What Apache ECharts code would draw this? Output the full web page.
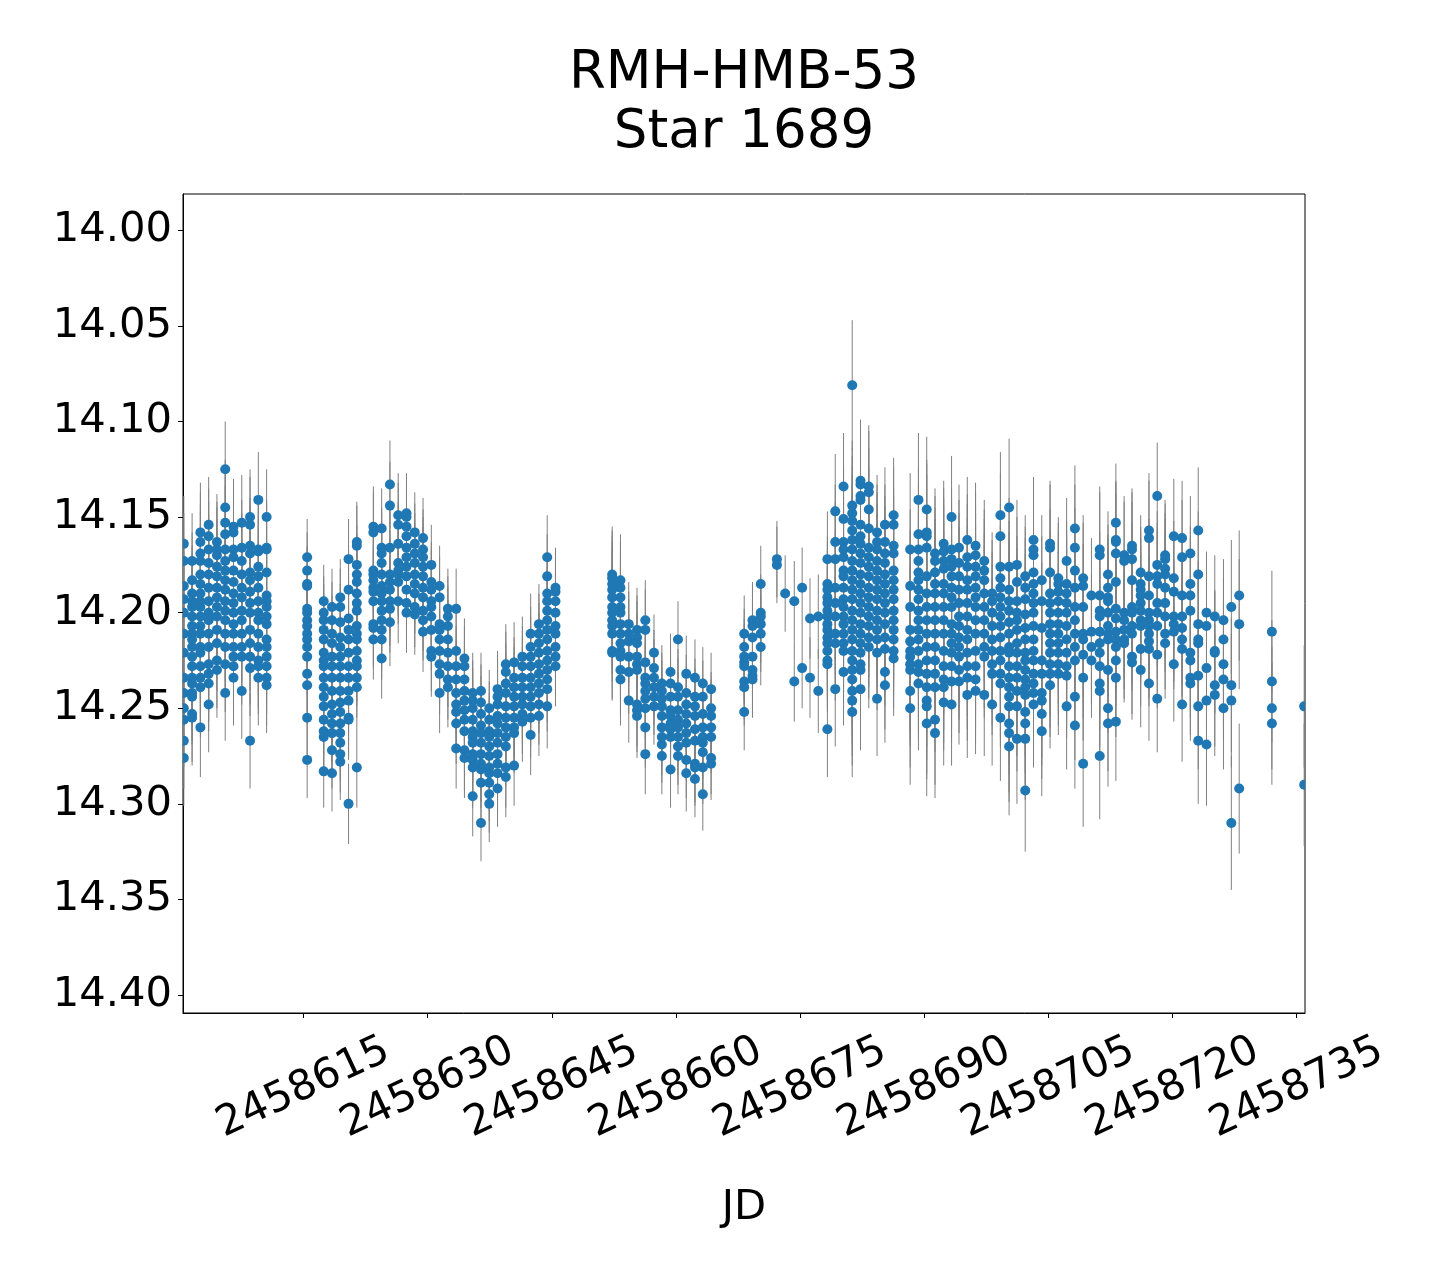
<!DOCTYPE html>
<html><head><meta charset="utf-8">
<script src="https://cdn.jsdelivr.net/npm/echarts@6/dist/echarts.min.js"></script>
<style>html,body{margin:0;background:#fff}#c{width:1440px;height:1280px}</style>
</head><body><div id="c"></div>
<script>
const titleLines = ['RMH-HMB-53', 'Star 1689'];
const xName = 'JD';
const xTicks = [2458615, 2458630, 2458645, 2458660, 2458675, 2458690, 2458705, 2458720, 2458735];
const yTicks = [14.00, 14.05, 14.10, 14.15, 14.20, 14.25, 14.30, 14.35, 14.40];

// one entry per observing night: JD, typical error, magnitudes
const nightJD = [
  2458600.55, 2458601.55, 2458602.55, 2458603.55, 2458604.55, 2458605.55, 2458606.55, 2458607.55, 2458608.55, 2458609.55, 2458610.55,
  2458615.45, 2458617.45, 2458618.45, 2458619.45, 2458620.45, 2458621.45, 2458623.45, 2458624.45, 2458625.45, 2458626.45,
  2458627.45, 2458628.45, 2458629.45, 2458630.45, 2458631.45, 2458632.45, 2458633.45, 2458634.45, 2458635.45, 2458636.45,
  2458637.45, 2458638.45, 2458639.45, 2458640.45, 2458641.45, 2458642.45, 2458643.45, 2458644.45, 2458645.45,
  2458652.3, 2458653.3, 2458654.3, 2458655.3, 2458656.3, 2458657.35, 2458658.3, 2458659.35, 2458660.25, 2458661.25,
  2458662.3, 2458663.25, 2458664.25,
  2458668.25, 2458669.25, 2458670.25, 2458672.2, 2458673.2, 2458674.3, 2458675.25, 2458676.2, 2458677.2,
  2458678.3, 2458679.25, 2458680.25, 2458681.3, 2458682.3, 2458683.3, 2458684.3, 2458685.25, 2458686.3,
  2458688.3, 2458689.3, 2458690.3, 2458691.3, 2458692.35, 2458693.3, 2458694.2, 2458695.2, 2458696.2, 2458697.25,
  2458698.2, 2458699.2, 2458700.25, 2458701.2, 2458702.2, 2458703.2, 2458704.2, 2458705.2, 2458706.2, 2458707.2,
  2458708.2, 2458709.2, 2458710.2, 2458711.2, 2458712.2,
  2458713.15, 2458714.15, 2458715.1, 2458716.15, 2458717.15, 2458718.15, 2458719.1, 2458720.15, 2458721.15, 2458722.15,
  2458723.1, 2458724.1, 2458725.1, 2458726.15, 2458727.1, 2458728.05, 2458732.0, 2458735.9
];
const nightErr = [
  0.025, 0.025, 0.026, 0.025, 0.025, 0.025, 0.025, 0.025, 0.025, 0.025, 0.025,
  0.02, 0.019, 0.02, 0.02, 0.021, 0.021, 0.021, 0.021, 0.023, 0.022,
  0.021, 0.021, 0.021, 0.021, 0.021, 0.021, 0.021, 0.021, 0.021, 0.02,
  0.02, 0.02, 0.021, 0.021, 0.021, 0.021, 0.021, 0.022, 0.021,
  0.025, 0.024, 0.022, 0.022, 0.021, 0.02, 0.02, 0.02, 0.02, 0.02,
  0.02, 0.019, 0.019,
  0.02, 0.02, 0.02, 0.02, 0.02, 0.021, 0.021, 0.021, 0.022,
  0.025, 0.03, 0.028, 0.034, 0.032, 0.032, 0.03, 0.03, 0.03,
  0.04, 0.035, 0.038, 0.034, 0.033, 0.032, 0.033, 0.033, 0.033, 0.032,
  0.032, 0.033, 0.036, 0.034, 0.032, 0.033, 0.034, 0.033, 0.032, 0.033,
  0.033, 0.033, 0.03, 0.033, 0.033,
  0.031, 0.031, 0.03, 0.03, 0.03, 0.028, 0.029, 0.03, 0.03, 0.03,
  0.033, 0.032, 0.032, 0.032, 0.035, 0.034, 0.032, 0.032
];
const nightMags = [
  [14.164,14.173,14.186,14.193,14.200,14.211,14.221,14.234,14.242,14.250,14.256,14.267,14.276],
  [14.173,14.183,14.190,14.194,14.197,14.202,14.207,14.211,14.214,14.218,14.223,14.228,14.234,14.237,14.242,14.244,14.253,14.255],
  [14.158,14.163,14.169,14.173,14.180,14.185,14.190,14.194,14.197,14.202,14.207,14.211,14.218,14.221,14.228,14.234,14.239,14.260],
  [14.154,14.160,14.167,14.174,14.180,14.187,14.194,14.200,14.204,14.211,14.218,14.227,14.232,14.237,14.248],
  [14.163,14.167,14.170,14.176,14.181,14.187,14.192,14.197,14.202,14.209,14.216,14.225,14.230],
  [14.125,14.145,14.153,14.159,14.167,14.173,14.178,14.183,14.188,14.194,14.199,14.204,14.211,14.218,14.227,14.242],
  [14.155,14.158,14.167,14.171,14.178,14.184,14.190,14.195,14.200,14.206,14.211,14.218,14.223,14.228,14.234],
  [14.153,14.166,14.173,14.180,14.187,14.192,14.199,14.204,14.211,14.218,14.223,14.241],
  [14.150,14.154,14.165,14.169,14.179,14.183,14.189,14.195,14.200,14.209,14.216,14.223,14.229,14.267],
  [14.141,14.167,14.168,14.176,14.181,14.187,14.194,14.200,14.204,14.211,14.218,14.225,14.228,14.234],
  [14.150,14.166,14.167,14.179,14.191,14.194,14.197,14.202,14.206,14.214,14.218,14.223,14.228,14.234,14.238],
  [14.171,14.178,14.185,14.186,14.198,14.200,14.204,14.207,14.211,14.214,14.218,14.223,14.232,14.238,14.255,14.277],
  [14.194,14.200,14.204,14.209,14.214,14.221,14.225,14.228,14.234,14.239,14.244,14.249,14.256,14.262,14.265,14.283],
  [14.197,14.204,14.211,14.216,14.223,14.228,14.234,14.241,14.248,14.253,14.258,14.263,14.272,14.284],
  [14.192,14.197,14.205,14.213,14.218,14.223,14.228,14.234,14.241,14.247,14.252,14.258,14.263,14.268,14.274,14.278],
  [14.172,14.188,14.203,14.209,14.214,14.221,14.228,14.234,14.241,14.246,14.255,14.256,14.300],
  [14.163,14.165,14.175,14.180,14.184,14.190,14.195,14.199,14.207,14.211,14.214,14.220,14.225,14.228,14.234,14.239,14.281],
  [14.155,14.158,14.178,14.180,14.183,14.187,14.189,14.194,14.206,14.208,14.214],
  [14.156,14.166,14.169,14.174,14.180,14.186,14.190,14.194,14.199,14.204,14.209,14.214,14.224],
  [14.133,14.144,14.166,14.180,14.184,14.188,14.194,14.198,14.205],
  [14.149,14.154,14.164,14.174,14.178,14.180,14.184,14.194],
  [14.148,14.150,14.155,14.160,14.166,14.171,14.176,14.181,14.188,14.195,14.200],
  [14.158,14.164,14.169,14.174,14.180,14.185,14.190,14.197,14.201],
  [14.161,14.167,14.171,14.176,14.181,14.187,14.192,14.199,14.204,14.210],
  [14.175,14.184,14.188,14.194,14.197,14.202,14.209,14.220,14.223],
  [14.186,14.192,14.206,14.209,14.214,14.220,14.227,14.232,14.242],
  [14.198,14.202,14.207,14.214,14.221,14.228,14.235,14.239],
  [14.198,14.220,14.228,14.235,14.242,14.248,14.252,14.258,14.271],
  [14.224,14.228,14.235,14.241,14.246,14.251,14.256,14.262,14.272,14.276],
  [14.242,14.246,14.250,14.256,14.262,14.265,14.268,14.274,14.277,14.281,14.296],
  [14.241,14.247,14.253,14.259,14.263,14.268,14.274,14.279,14.282,14.289,14.310],
  [14.250,14.256,14.262,14.265,14.270,14.275,14.281,14.284,14.289,14.295,14.300],
  [14.240,14.244,14.248,14.254,14.258,14.263,14.268,14.274,14.279,14.284,14.292],
  [14.227,14.231,14.237,14.242,14.249,14.255,14.260,14.265,14.270,14.281,14.286],
  [14.226,14.234,14.239,14.244,14.249,14.255,14.260,14.263,14.280],
  [14.223,14.228,14.234,14.239,14.244,14.248,14.253,14.257],
  [14.211,14.218,14.223,14.228,14.234,14.239,14.244,14.249,14.255,14.264],
  [14.206,14.211,14.216,14.221,14.227,14.232,14.237,14.242,14.248,14.254],
  [14.171,14.181,14.190,14.194,14.199,14.204,14.209,14.214,14.220,14.225,14.230,14.235,14.240,14.249],
  [14.187,14.189,14.194,14.200,14.207,14.211,14.218,14.223,14.228],
  [14.180,14.182,14.185,14.188,14.192,14.197,14.200,14.204,14.207,14.211,14.220,14.221],
  [14.183,14.187,14.192,14.197,14.200,14.206,14.211,14.216,14.220,14.223,14.230,14.235],
  [14.206,14.211,14.215,14.223,14.231,14.246],
  [14.209,14.213,14.216,14.223,14.227,14.230,14.248,14.251,14.254],
  [14.204,14.209,14.226,14.234,14.237,14.241,14.245,14.250,14.260,14.274],
  [14.221,14.229,14.234,14.239,14.244,14.249],
  [14.237,14.241,14.245,14.249,14.254,14.260,14.265,14.269,14.275],
  [14.231,14.237,14.244,14.251,14.254,14.258,14.261,14.265,14.282],
  [14.214,14.239,14.244,14.251,14.256,14.260,14.265,14.270,14.275],
  [14.232,14.242,14.248,14.253,14.258,14.263,14.268,14.277,14.284],
  [14.234,14.244,14.249,14.254,14.261,14.267,14.279,14.281,14.287],
  [14.237,14.244,14.253,14.260,14.265,14.268,14.273,14.281,14.295],
  [14.240,14.250,14.254,14.260,14.265,14.276,14.279],
  [14.211,14.218,14.223,14.226,14.228,14.236,14.239,14.252],
  [14.204,14.207,14.213,14.223,14.230,14.233,14.235],
  [14.185,14.200,14.202,14.206,14.211,14.218],
  [14.172,14.175],
  [14.190],
  [14.194,14.236],
  [14.187,14.229],
  [14.203,14.234],
  [14.202,14.241],
  [14.172,14.185,14.188,14.192,14.195,14.199,14.202,14.206,14.209,14.213,14.216,14.220,14.225,14.227,14.261],
  [14.147,14.163,14.172,14.187,14.195,14.202,14.211,14.216,14.240],
  [14.134,14.151,14.163,14.167,14.171,14.178,14.181,14.187,14.193,14.197,14.202,14.206,14.211,14.216,14.220,14.231],
  [14.081,14.144,14.148,14.152,14.157,14.162,14.167,14.173,14.178,14.183,14.188,14.193,14.199,14.204,14.209,14.214,14.220,14.225,14.230,14.235,14.241,14.246,14.252],
  [14.131,14.133,14.139,14.141,14.154,14.160,14.164,14.169,14.174,14.180,14.185,14.190,14.195,14.200,14.206,14.211,14.216,14.221,14.227,14.230,14.240],
  [14.134,14.137,14.146,14.156,14.166,14.171,14.176,14.181,14.187,14.192,14.197,14.202,14.207,14.213,14.218],
  [14.158,14.163,14.167,14.173,14.178,14.183,14.188,14.193,14.199,14.204,14.209,14.214,14.221,14.245],
  [14.154,14.163,14.169,14.174,14.180,14.185,14.190,14.195,14.200,14.206,14.213,14.219,14.231,14.238],
  [14.149,14.154,14.165,14.169,14.178,14.183,14.188,14.193,14.199,14.204,14.209,14.214,14.220,14.224],
  [14.167,14.186,14.197,14.209,14.215,14.220,14.223,14.227,14.230,14.241,14.250],
  [14.141,14.159,14.167,14.173,14.179,14.183,14.188,14.193,14.199,14.204,14.209,14.214,14.220,14.227,14.231,14.237],
  [14.146,14.158,14.160,14.166,14.181,14.190,14.197,14.204,14.211,14.218,14.225,14.232,14.239,14.246,14.249,14.258],
  [14.169,14.173,14.179,14.185,14.190,14.197,14.204,14.211,14.218,14.225,14.232,14.239,14.256,14.263],
  [14.164,14.168,14.173,14.177,14.185,14.190,14.197,14.204,14.211,14.220,14.228,14.235,14.239,14.247],
  [14.150,14.167,14.172,14.176,14.181,14.187,14.192,14.197,14.206,14.211,14.216,14.221,14.228,14.236,14.248],
  [14.166,14.174,14.181,14.188,14.195,14.202,14.207,14.213,14.218,14.223,14.230,14.236],
  [14.162,14.171,14.176,14.183,14.188,14.195,14.202,14.209,14.214,14.221,14.228,14.234,14.243],
  [14.165,14.170,14.176,14.181,14.187,14.192,14.197,14.204,14.211,14.220,14.228,14.235,14.241],
  [14.173,14.178,14.183,14.190,14.197,14.204,14.211,14.218,14.223,14.243],
  [14.190,14.194,14.200,14.207,14.214,14.220,14.227,14.232,14.248],
  [14.149,14.160,14.176,14.182,14.187,14.192,14.197,14.202,14.207,14.213,14.220,14.225,14.232,14.237,14.255],
  [14.145,14.176,14.188,14.194,14.199,14.205,14.211,14.218,14.221,14.228,14.234,14.239,14.244,14.249,14.258,14.263,14.270],
  [14.175,14.184,14.194,14.200,14.204,14.209,14.216,14.221,14.228,14.234,14.241,14.249,14.266],
  [14.181,14.187,14.193,14.201,14.208,14.214,14.221,14.225,14.230,14.235,14.239,14.243,14.252,14.258,14.266,14.293],
  [14.162,14.167,14.170,14.179,14.185,14.190,14.195,14.200,14.207,14.214,14.220,14.225,14.232,14.237,14.242,14.248],
  [14.183,14.194,14.208,14.225,14.232,14.242,14.246,14.253,14.262],
  [14.164,14.166,14.179,14.190,14.195,14.200,14.206,14.211,14.216,14.221,14.227,14.232,14.238],
  [14.182,14.185,14.189,14.194,14.200,14.206,14.211,14.216,14.221,14.227,14.232],
  [14.173,14.185,14.190,14.195,14.200,14.207,14.214,14.221,14.228,14.233,14.249],
  [14.156,14.166,14.178,14.187,14.197,14.204,14.211,14.218,14.225,14.244,14.259],
  [14.182,14.186,14.197,14.211,14.214,14.222,14.234,14.279],
  [14.191,14.210,14.218,14.225],
  [14.167,14.170,14.191,14.199,14.202,14.210,14.216,14.221,14.228,14.237,14.241,14.275],
  [14.180,14.187,14.192,14.194,14.200,14.207,14.211,14.214,14.230,14.250,14.258],
  [14.153,14.162,14.163,14.169,14.184,14.198,14.203,14.210,14.214,14.218,14.225,14.234,14.257],
  [14.170,14.173,14.200,14.204,14.209,14.214,14.216],
  [14.165,14.167,14.172,14.183,14.197,14.200,14.207,14.211,14.223,14.226],
  [14.179,14.185,14.188,14.191,14.195,14.199,14.204,14.207,14.219,14.230],
  [14.157,14.161,14.181,14.191,14.200,14.204,14.207,14.211,14.215,14.219,14.237],
  [14.139,14.175,14.181,14.185,14.195,14.200,14.207,14.222,14.245],
  [14.170,14.172,14.177,14.180,14.187,14.195,14.202,14.211,14.216],
  [14.160,14.182,14.189,14.202,14.206,14.210,14.227],
  [14.161,14.171,14.191,14.202,14.208,14.214,14.219,14.248],
  [14.169,14.185,14.191,14.199,14.221,14.225,14.234,14.237],
  [14.157,14.180,14.206,14.214,14.216,14.233,14.249,14.267],
  [14.200,14.207,14.229,14.246,14.269],
  [14.202,14.220,14.221,14.238,14.243],
  [14.204,14.214,14.227,14.235,14.250],
  [14.197,14.238,14.246,14.310],
  [14.191,14.206,14.292],
  [14.210,14.236,14.250,14.258],
  [14.249,14.290]
];

const points = [];
nightJD.forEach((jd, i) => nightMags[i].forEach(m => points.push([jd, m, nightErr[i]])));

const FONT = 'DejaVu Sans';
const chart = echarts.init(document.getElementById('c'));
chart.setOption({
  animation: false,
  backgroundColor: '#fff',
  graphic: [
    { type: 'text', x: 744, y: 74, silent: true,
      style: { text: titleLines[0], fontFamily: FONT, fontSize: 53, fill: '#000', align: 'center', verticalAlign: 'middle' } },
    { type: 'text', x: 744, y: 133, silent: true,
      style: { text: titleLines[1], fontFamily: FONT, fontSize: 53, fill: '#000', align: 'center', verticalAlign: 'middle' } }
  ],
  grid: { left: 183, top: 194, width: 1122, height: 819, show: true, borderColor: '#000', borderWidth: 1, backgroundColor: 'transparent' },
  xAxis: {
    type: 'value', min: 2458600.45, max: 2458736.0,
    name: xName, nameLocation: 'middle', nameGap: 195,
    nameTextStyle: { fontFamily: FONT, fontSize: 41.7, color: '#000', verticalAlign: 'middle' },
    splitLine: { show: false },
    axisLine: { show: true, onZero: false, lineStyle: { color: '#000', width: 1 } },
    axisTick: { show: true, length: 5, customValues: xTicks, lineStyle: { color: '#000' } },
    axisLabel: {
      customValues: xTicks, rotate: 25, align: 'center', verticalAlign: 'middle', margin: 75,
      fontFamily: FONT, fontSize: 41.7, color: '#000', formatter: v => String(v)
    }
  },
  yAxis: {
    type: 'value', inverse: true, min: 13.981, max: 14.4094,
    splitLine: { show: false },
    axisLine: { show: true, onZero: false, lineStyle: { color: '#000', width: 1 } },
    axisTick: { show: true, length: 5, customValues: yTicks, lineStyle: { color: '#000' } },
    axisLabel: {
      customValues: yTicks, margin: 11,
      fontFamily: FONT, fontSize: 41.7, color: '#000', formatter: v => v.toFixed(2)
    }
  },
  series: [
    {
      type: 'custom', clip: true, silent: true,
      data: points,
      encode: { x: 0, y: 1 },
      renderItem: (params, api) => {
        const x = api.value(0), m = api.value(1), e = api.value(2);
        const p1 = api.coord([x, m - e]);
        const p2 = api.coord([x, m + e]);
        return { type: 'line', shape: { x1: p1[0], y1: p1[1], x2: p2[0], y2: p2[1] },
                 style: { stroke: '#808080', lineWidth: 1 } };
      }
    },
    {
      type: 'custom', clip: true, silent: true,
      data: points,
      encode: { x: 0, y: 1 },
      renderItem: (params, api) => {
        const p = api.coord([api.value(0), api.value(1)]);
        return { type: 'circle', shape: { cx: p[0], cy: p[1], r: 5 },
                 style: { fill: '#1f77b4' } };
      }
    }
  ]
});
</script>
</body></html>
